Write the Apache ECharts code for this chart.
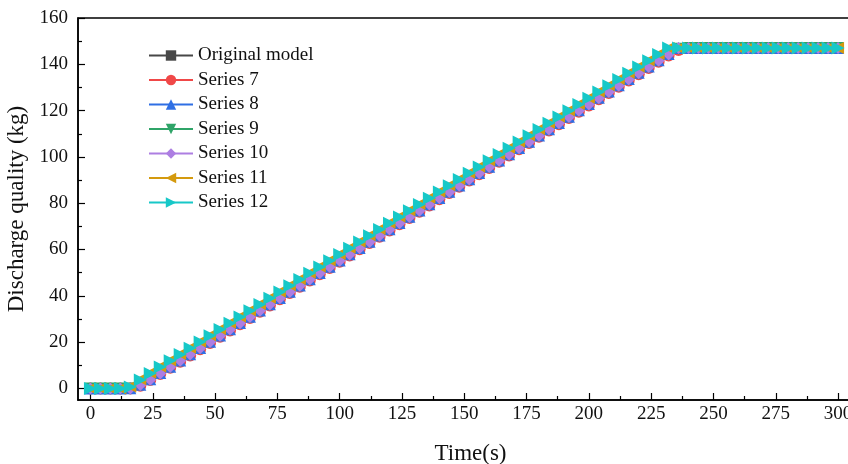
<!DOCTYPE html>
<html>
<head>
<meta charset="utf-8">
<script src="https://cdn.jsdelivr.net/npm/echarts@6/dist/echarts.min.js"></script>
<style>
html, body { margin: 0; padding: 0; background: #fff; }
#echarts_id { width: 848px; height: 464px; }
</style>
</head>
<body>
<div id="echarts_id"></div>
<script>
// time axis (s)
var time = [0, 4, 8, 12, 16, 20, 24, 28, 32, 36, 40, 44, 48, 52, 56, 60, 64, 68, 72, 76,
    80, 84, 88, 92, 96, 100, 104, 108, 112, 116, 120, 124, 128, 132, 136, 140, 144, 148, 152, 156,
    160, 164, 168, 172, 176, 180, 184, 188, 192, 196, 200, 204, 208, 212, 216, 220, 224, 228, 232, 236,
    240, 244, 248, 252, 256, 260, 264, 268, 272, 276, 280, 284, 288, 292, 296, 300];

var originalModel = [0, 0, 0, 0, 0.2, 2.2, 4.8, 7.5, 10.2, 12.9,
    15.6, 18.3, 21.0, 23.7, 26.4, 29.1, 31.8, 34.5, 37.2, 39.9,
    42.6, 45.3, 48.0, 50.7, 53.4, 56.1, 58.8, 61.5, 64.2, 66.9,
    69.6, 72.3, 75.0, 77.7, 80.4, 83.1, 85.8, 88.5, 91.2, 93.9,
    96.6, 99.3, 102.0, 104.7, 107.4, 110.1, 112.8, 115.5, 118.2, 120.9,
    123.6, 126.3, 129.0, 131.7, 134.4, 137.1, 139.8, 142.5, 145.2, 147.0,
    147, 147, 147, 147, 147, 147, 147, 147, 147, 147, 147, 147, 147, 147, 147, 147];
var series7 = [0, 0, 0, 0, 0, 1.2, 3.6, 6.2, 8.9, 11.5,
    14.2, 16.9, 19.6, 22.3, 25.0, 27.7, 30.4, 33.1, 35.8, 38.5,
    41.2, 43.9, 46.6, 49.3, 52.0, 54.7, 57.4, 60.1, 62.8, 65.5,
    68.2, 70.9, 73.6, 76.3, 79.0, 81.7, 84.4, 87.1, 89.8, 92.5,
    95.2, 97.9, 100.6, 103.3, 106.0, 108.7, 111.4, 114.1, 116.8, 119.5,
    122.2, 124.9, 127.6, 130.3, 133.0, 135.7, 138.4, 141.1, 143.8, 146.2,
    147, 147, 147, 147, 147, 147, 147, 147, 147, 147, 147, 147, 147, 147, 147, 147];
var series8 = [0, 0, 0, 0, 0.1, 1.6, 4.0, 6.7, 9.4, 12.1,
    14.8, 17.5, 20.2, 22.9, 25.6, 28.3, 31.0, 33.7, 36.4, 39.1,
    41.8, 44.5, 47.2, 49.9, 52.6, 55.3, 58.0, 60.7, 63.4, 66.1,
    68.8, 71.5, 74.2, 76.9, 79.6, 82.3, 85.0, 87.7, 90.4, 93.1,
    95.8, 98.5, 101.2, 103.9, 106.6, 109.3, 112.0, 114.7, 117.4, 120.1,
    122.8, 125.5, 128.2, 130.9, 133.6, 136.3, 139.0, 141.7, 144.4, 147.0,
    147, 147, 147, 147, 147, 147, 147, 147, 147, 147, 147, 147, 147, 147, 147, 147];
var series9 = [0, 0, 0, 0, 0, 1.4, 3.6, 6.3, 9.0, 11.7,
    14.4, 17.1, 19.8, 22.5, 25.2, 27.9, 30.6, 33.3, 36.0, 38.7,
    41.4, 44.1, 46.8, 49.5, 52.2, 54.9, 57.6, 60.3, 63.0, 65.7,
    68.4, 71.1, 73.8, 76.5, 79.2, 81.9, 84.6, 87.3, 90.0, 92.7,
    95.4, 98.1, 100.8, 103.5, 106.2, 108.9, 111.6, 114.3, 117.0, 119.7,
    122.4, 125.1, 127.8, 130.5, 133.2, 135.9, 138.6, 141.3, 144.0, 146.7,
    147, 147, 147, 147, 147, 147, 147, 147, 147, 147, 147, 147, 147, 147, 147, 147];
var series10 = [0, 0, 0, 0, 0, 1.5, 3.8, 6.5, 9.2, 11.9,
    14.6, 17.3, 20.0, 22.7, 25.4, 28.1, 30.8, 33.5, 36.2, 38.9,
    41.6, 44.3, 47.0, 49.7, 52.4, 55.1, 57.8, 60.5, 63.2, 65.9,
    68.6, 71.3, 74.0, 76.7, 79.4, 82.1, 84.8, 87.5, 90.2, 92.9,
    95.6, 98.3, 101.0, 103.7, 106.4, 109.1, 111.8, 114.5, 117.2, 119.9,
    122.6, 125.3, 128.0, 130.7, 133.4, 136.1, 138.8, 141.5, 144.2, 147.0,
    147, 147, 147, 147, 147, 147, 147, 147, 147, 147, 147, 147, 147, 147, 147, 147];
var series11 = [0, 0, 0, 0, 0.8, 4.0, 6.8, 9.5, 12.2, 14.9,
    17.6, 20.3, 23.0, 25.7, 28.4, 31.1, 33.8, 36.5, 39.2, 41.9,
    44.6, 47.3, 50.0, 52.7, 55.4, 58.1, 60.8, 63.5, 66.2, 68.9,
    71.6, 74.3, 77.0, 79.7, 82.4, 85.1, 87.8, 90.5, 93.2, 95.9,
    98.6, 101.3, 104.0, 106.7, 109.4, 112.1, 114.8, 117.5, 120.2, 122.9,
    125.6, 128.3, 131.0, 133.7, 136.4, 139.1, 141.8, 144.5, 147.0, 147.0,
    147, 147, 147, 147, 147, 147, 147, 147, 147, 147, 147, 147, 147, 147, 147, 147];
var series12 = [0, 0, 0, 0, 0.6, 3.6, 6.5, 9.2, 11.9, 14.6,
    17.3, 20.0, 22.7, 25.4, 28.1, 30.8, 33.5, 36.2, 38.9, 41.6,
    44.3, 47.0, 49.7, 52.4, 55.1, 57.8, 60.5, 63.2, 65.9, 68.6,
    71.3, 74.0, 76.7, 79.4, 82.1, 84.8, 87.5, 90.2, 92.9, 95.6,
    98.3, 101.0, 103.7, 106.4, 109.1, 111.8, 114.5, 117.2, 119.9, 122.6,
    125.3, 128.0, 130.7, 133.4, 136.1, 138.8, 141.5, 144.2, 147.0, 147.0,
    147, 147, 147, 147, 147, 147, 147, 147, 147, 147, 147, 147, 147, 147, 147, 147];

var xTicks = [0, 25, 50, 75, 100, 125, 150, 175, 200, 225, 250, 275, 300];
var xMinorTicks = [12.5, 37.5, 62.5, 87.5, 112.5, 137.5, 162.5, 187.5, 212.5, 237.5, 262.5, 287.5];
var yTicks = [0, 20, 40, 60, 80, 100, 120, 140, 160];
var yMinorTicks = [10, 30, 50, 70, 90, 110, 130, 150];

var seriesNames = ['Original model', 'Series 7', 'Series 8', 'Series 9', 'Series 10', 'Series 11', 'Series 12'];
var seriesValues = [originalModel, series7, series8, series9, series10, series11, series12];
var colors = ['#474747', '#f04848', '#2f6fe4', '#2fa468', '#ad7ee2', '#d49a0e', '#17c8c8'];
var symbols = ['rect', 'circle', 'triangle', 'triangle', 'diamond', 'triangle', 'triangle'];
var rotates = [0, 0, 0, 180, 0, 90, -90];
var sizes = [10, 12, 12, 12, 12, 12, 13];

var font = 'Liberation Serif';

function pairs(ys) {
    var out = [];
    for (var i = 0; i < time.length; i++) out.push([time[i], ys[i]]);
    return out;
}

var myChart = echarts.init(document.getElementById('echarts_id'));

var series = [];
for (var k = 0; k < seriesNames.length; k++) {
    series.push({
        name: seriesNames[k],
        type: 'line',
        data: pairs(seriesValues[k]),
        symbol: symbols[k],
        symbolRotate: rotates[k],
        symbolSize: sizes[k],
        showAllSymbol: true,
        itemStyle: { color: colors[k] },
        lineStyle: { color: colors[k], width: 1.2 }
    });
}

var option = {
    animation: false,
    backgroundColor: '#fff',
    grid: {
        left: 78, top: 18, width: 785, bottom: 64,
        outerBoundsMode: 'none', containLabel: false,
        show: true, borderColor: '#000', borderWidth: 1.5, backgroundColor: 'transparent'
    },
    legend: {
        orient: 'vertical',
        left: 148, top: 46, padding: 0,
        itemWidth: 44, itemHeight: 13, itemGap: 5.5,
        textStyle: { fontFamily: font, fontSize: 19, color: '#111', lineHeight: 19 },
        data: seriesNames
    },
    xAxis: [{
        type: 'value', min: -5, max: 310, position: 'bottom',
        name: 'Time(s)', nameLocation: 'middle', nameGap: 42,
        nameTextStyle: { fontFamily: font, fontSize: 23, color: '#111' },
        axisLine: { onZero: false, lineStyle: { color: '#000', width: 1.5 } },
        axisTick: { inside: true, length: 7, customValues: xTicks, lineStyle: { color: '#000', width: 1.2 } },
        axisLabel: { customValues: xTicks, margin: 5, fontFamily: font, fontSize: 19, color: '#111' },
        splitLine: { show: false }
    }, {
        type: 'value', min: -5, max: 310, position: 'bottom',
        axisLine: { show: false, onZero: false },
        axisTick: { inside: true, length: 4, customValues: xMinorTicks, lineStyle: { color: '#000', width: 1.2 } },
        axisLabel: { show: false },
        splitLine: { show: false }
    }],
    yAxis: [{
        type: 'value', min: -5, max: 160, position: 'left',
        name: 'Discharge quality (kg)', nameLocation: 'middle', nameGap: 43,
        nameTextStyle: { fontFamily: font, fontSize: 23, color: '#111' },
        axisLine: { show: true, onZero: false, lineStyle: { color: '#000', width: 1.5 } },
        axisTick: { show: true, inside: true, length: 7, customValues: yTicks, lineStyle: { color: '#000', width: 1.2 } },
        axisLabel: { customValues: yTicks, margin: 10, fontFamily: font, fontSize: 19, color: '#111' },
        splitLine: { show: false }
    }, {
        type: 'value', min: -5, max: 160, position: 'left',
        axisLine: { show: false, onZero: false },
        axisTick: { show: true, inside: true, length: 4, customValues: yMinorTicks, lineStyle: { color: '#000', width: 1.2 } },
        axisLabel: { show: false },
        splitLine: { show: false }
    }],
    series: series
};

myChart.setOption(option);
</script>
</body>
</html>
